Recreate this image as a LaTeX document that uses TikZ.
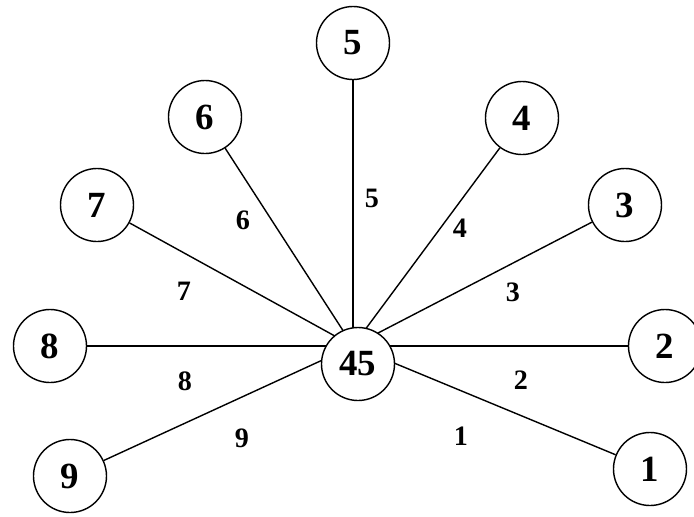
\documentclass[tikz,border=0pt]{standalone}
\usepackage{fontspec}
\setmainfont{Liberation Serif}
\usetikzlibrary{backgrounds}

\begin{document}
\begin{tikzpicture}[
  vertex/.style={circle, draw, line width=0.8pt, fill=white, minimum size=1.46cm, inner sep=0pt,
    font=\fontsize{21}{21}\selectfont\bfseries},
  weight/.style={inner sep=1pt, font=\fontsize{16}{16}\selectfont\bfseries},
  spoke/.style={line width=0.8pt}]

  \useasboundingbox (-7.06,-3.40) rectangle (6.82,6.92);

  % Centre of the star and its vertex

  \coordinate (hub) at (0,0);
  \node [vertex] (n45) at (0.10,-0.36) {45};

  % Outer vertices

  \node [vertex] (n5) at (0,6.06) {5};
  \node [vertex] (n6) at (-2.96,4.58) {6};
  \node [vertex] (n4) at (3.38,4.56) {4};
  \node [vertex] (n7) at (-5.12,2.82) {7};
  \node [vertex] (n3) at (5.44,2.82) {3};
  \node [vertex] (n8) at (-6.06,0) {8};
  \node [vertex] (n2) at (6.24,0) {2};
  \node [vertex] (n9) at (-5.66,-2.60) {9};
  \node [vertex] (n1) at (5.94,-2.46) {1};

  % Spokes from the centre

  \begin{scope}[on background layer]
    \draw [spoke] (hub) -- (n1);
    \draw [spoke] (hub) -- (n2);
    \draw [spoke] (hub) -- (n3);
    \draw [spoke] (hub) -- (n4);
    \draw [spoke] (hub) -- (n5);
    \draw [spoke] (hub) -- (n6);
    \draw [spoke] (hub) -- (n7);
    \draw [spoke] (hub) -- (n8);
    \draw [spoke] (hub) -- (n9);
  \end{scope}

  % Weights of the spokes

  \node [weight] (w1) at (2.16,-1.80) {1};
  \node [weight] (w2) at (3.36,-0.68) {2};
  \node [weight] (w3) at (3.20,1.08) {3};
  \node [weight] (w4) at (2.14,2.36) {4};
  \node [weight] (w5) at (0.38,2.96) {5};
  \node [weight] (w6) at (-2.20,2.52) {6};
  \node [weight] (w7) at (-3.38,1.10) {7};
  \node [weight] (w8) at (-3.36,-0.70) {8};
  \node [weight] (w9) at (-2.22,-1.84) {9};

\end{tikzpicture}
\end{document}
